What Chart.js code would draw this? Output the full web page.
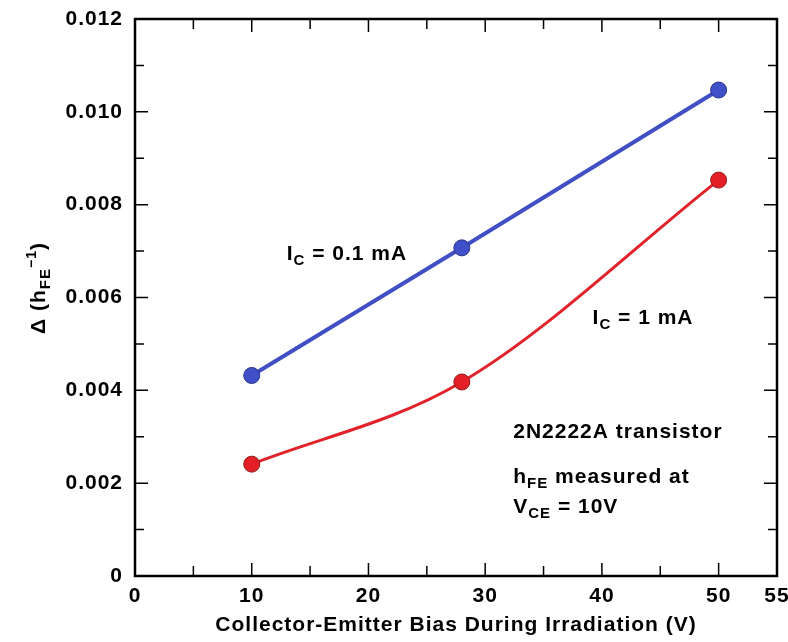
<!DOCTYPE html>
<html lang="en">
<head>
    <meta charset="UTF-8">
    <title>hFE change vs collector-emitter bias</title>
    <script src="https://cdn.jsdelivr.net/npm/chart.js"></script>
    <style>
        html, body { margin: 0; padding: 0; background: #fff; }
        #wrap { width: 788px; height: 642px; }
    </style>
</head>
<body>
    <div id="wrap"><canvas id="hfeChart" width="788" height="642"></canvas></div>

    <script>
        // values
        const biasVolts = [10, 28, 50];
        const deltaLowIc = [0.00432, 0.00707, 0.01047];   // Ic = 0.1 mA
        const deltaHighIc = [0.00241, 0.00418, 0.00853];  // Ic = 1 mA
        const xTickValues = [0, 10, 20, 30, 40, 50, 55];
        const yTickValues = [0, 0.002, 0.004, 0.006, 0.008, 0.010, 0.012];

        const FONT = '"Liberation Sans", Arial, Helvetica, sans-serif';
        const SPACING = '1px';

        // text pieces: [text, size, shift]; shift > 0 lowers (subscript)
        const notes = [
            { x: 13.0, y: 0.00681, parts: [['I', 21, 0], ['C', 15, 5], [' = 0.1 mA', 21, 0]] },
            { x: 39.2, y: 0.00543, parts: [['I', 21, 0], ['C', 15, 5], [' = 1 mA', 21, 0]] },
            { x: 32.4, y: 0.00297, parts: [['2N2222A transistor', 21, 0]] },
            { x: 32.4, y: 0.00200, parts: [['h', 21, 0], ['FE', 15, 5], [' measured at', 21, 0]] },
            { x: 32.4, y: 0.00136, parts: [['V', 21, 0], ['CE', 15, 5], [' = 10V', 21, 0]] }
        ];

        function partsWidth(ctx, parts) {
            let w = 0;
            parts.forEach(p => {
                ctx.font = 'bold ' + p[1] + 'px ' + FONT;
                w += ctx.measureText(p[0]).width;
            });
            return w;
        }

        function drawParts(ctx, x, y, parts) {
            ctx.textBaseline = 'alphabetic';
            ctx.textAlign = 'left';
            parts.forEach(p => {
                ctx.font = 'bold ' + p[1] + 'px ' + FONT;
                ctx.fillText(p[0], x, y + p[2]);
                x += ctx.measureText(p[0]).width;
            });
        }

        // the scanned lettering is a little wider than Liberation Sans
        const spacingPlugin = {
            id: 'spacing',
            beforeLayout(chart) { chart.ctx.letterSpacing = SPACING; },
            beforeDraw(chart) { chart.ctx.letterSpacing = SPACING; }
        };

        const framePlugin = {
            id: 'frame',
            afterDraw(chart) {
                const ctx = chart.ctx;
                const a = chart.chartArea;
                const xs = chart.scales.x, ys = chart.scales.y;
                ctx.save();
                ctx.strokeStyle = '#000';
                ctx.lineWidth = 1.5;
                // inward ticks on all four sides
                for (let v = 5; v < 55; v += 5) {
                    const px = xs.getPixelForValue(v);
                    const len = v % 10 === 0 ? 13 : 10;
                    ctx.beginPath();
                    ctx.moveTo(px, a.bottom); ctx.lineTo(px, a.bottom - len);
                    ctx.moveTo(px, a.top); ctx.lineTo(px, a.top + len);
                    ctx.stroke();
                }
                for (let i = 1; i < 12; i++) {
                    const py = ys.getPixelForValue(i * 0.001);
                    const len = i % 2 === 0 ? 13 : 9;
                    ctx.beginPath();
                    ctx.moveTo(a.left, py); ctx.lineTo(a.left + len, py);
                    ctx.moveTo(a.right, py); ctx.lineTo(a.right - len, py);
                    ctx.stroke();
                }
                ctx.lineWidth = 2.5;
                ctx.strokeRect(a.left, a.top, a.right - a.left, a.bottom - a.top);

                // annotations
                ctx.fillStyle = '#000';
                notes.forEach(n => {
                    drawParts(ctx, xs.getPixelForValue(n.x), ys.getPixelForValue(n.y), n.parts);
                });

                // y axis title, rotated
                const title = [['\u0394 (h', 21, 0], ['FE', 15, 5], ['\u22121', 14, -9], [')', 21, 0]];
                const w = partsWidth(ctx, title);
                ctx.translate(38, 288);
                ctx.rotate(-Math.PI / 2);
                drawParts(ctx, -w / 2, 7, title);
                ctx.restore();
            }
        };

        new Chart(document.getElementById('hfeChart').getContext('2d'), {
            type: 'scatter',
            data: {
                datasets: [
                    {
                        label: 'Ic = 0.1 mA',
                        data: biasVolts.map((v, i) => ({ x: v, y: deltaLowIc[i] })),
                        showLine: true,
                        borderColor: '#4050c4',
                        borderWidth: 4,
                        backgroundColor: '#4050c8',
                        pointBorderColor: '#2c3488',
                        pointBorderWidth: 1,
                        pointRadius: 8,
                        tension: 0
                    },
                    {
                        label: 'Ic = 1 mA',
                        data: biasVolts.map((v, i) => ({ x: v, y: deltaHighIc[i] })),
                        showLine: true,
                        borderColor: '#e2222a',
                        borderWidth: 3,
                        backgroundColor: '#e41f28',
                        pointBorderColor: '#8c1c1c',
                        pointBorderWidth: 1,
                        pointRadius: 8,
                        cubicInterpolationMode: 'monotone'
                    }
                ]
            },
            options: {
                responsive: false,
                animation: false,
                layout: { padding: { top: 19, right: 11, left: 0, bottom: 0 } },
                plugins: {
                    legend: { display: false },
                    tooltip: { enabled: false }
                },
                scales: {
                    x: {
                        type: 'linear',
                        min: 0,
                        max: 55,
                        grid: { display: false, drawTicks: false },
                        border: { display: false },
                        afterBuildTicks: s => { s.ticks = xTickValues.map(v => ({ value: v })); },
                        afterFit: s => { s.height = 66; s.paddingLeft = 0; s.paddingRight = 0; },
                        ticks: {
                            color: '#000',
                            padding: 8,
                            maxRotation: 0,
                            font: { family: FONT, size: 21, weight: 'bold' },
                            callback: v => String(v)
                        },
                        title: {
                            display: true,
                            text: 'Collector-Emitter Bias During Irradiation (V)',
                            color: '#000',
                            padding: { top: 0, bottom: 4 },
                            font: { family: FONT, size: 21, weight: 'bold' }
                        }
                    },
                    y: {
                        type: 'linear',
                        min: 0,
                        max: 0.012,
                        grid: { display: false, drawTicks: false },
                        border: { display: false },
                        afterBuildTicks: s => { s.ticks = yTickValues.map(v => ({ value: v })); },
                        afterFit: s => { s.width = 135; s.paddingTop = 0; s.paddingBottom = 0; },
                        ticks: {
                            color: '#000',
                            padding: 12,
                            font: { family: FONT, size: 21, weight: 'bold' },
                            callback: v => v === 0 ? '0' : v.toFixed(3)
                        }
                    }
                }
            },
            plugins: [spacingPlugin, framePlugin]
        });
    </script>
</body>
</html>
